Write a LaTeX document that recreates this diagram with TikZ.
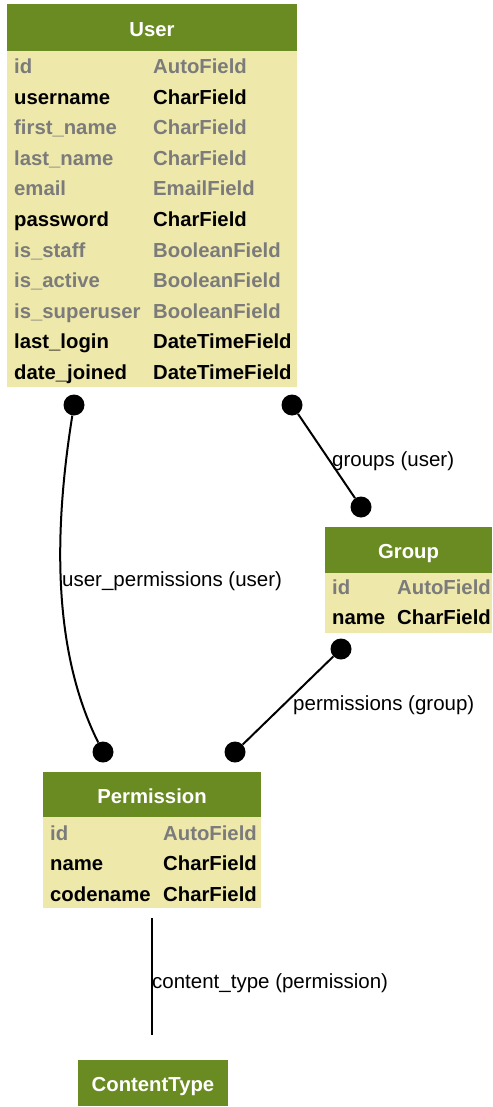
\documentclass[tikz,border=0pt]{standalone}
\usepackage{fontspec}
\setmainfont{Liberation Sans}
\usetikzlibrary{positioning}
\definecolor{hdrgreen}{HTML}{698B22}
\definecolor{bodyyellow}{HTML}{EEE8AA}
\definecolor{fldgrey}{HTML}{7B7B7B}
\newcommand{\fldfont}{\fontsize{20.3}{24}\selectfont}
\newcommand{\relfont}{\fontsize{20.5}{24}\selectfont}
\tikzset{
  hdr/.style={fill=hdrgreen, text=white, font=\fldfont\bfseries, inner sep=0pt, text height=17.7pt, text depth=0pt},
  bodybox/.style={fill=bodyyellow, inner sep=0pt},
  fld/.style={anchor=base west, inner sep=0pt, font=\fldfont\bfseries},
  fldgr/.style={fld, text=fldgrey},
  dot/.style={circle, fill=black, inner sep=0pt, minimum size=21pt},
  rel/.style={line width=2pt},
  rellabel/.style={anchor=base west, inner sep=0pt, font=\relfont}
}
\begin{document}
\begin{tikzpicture}[x=1pt,y=-1pt]
        \useasboundingbox (0,0) rectangle (492,1107);
        % Tabla User
        \node[hdr, minimum width=290pt, minimum height=47pt] (user) at (152,27.5) {User};
        \node[bodybox, minimum width=290pt, minimum height=336pt, below=0pt of user] (userbody) {};
        \node[fldgr] (uid) at (14,74) {id};
        \node[fldgr] (uidT) at (153,74) {AutoField};
        \node[fld] (uname) at (14,104.5) {username};
        \node[fld] (unameT) at (153,104.5) {CharField};
        \node[fldgr] (ufirst) at (14,135) {first\_name};
        \node[fldgr] (ufirstT) at (153,135) {CharField};
        \node[fldgr] (ulast) at (14,165.5) {last\_name};
        \node[fldgr] (ulastT) at (153,165.5) {CharField};
        \node[fldgr] (umail) at (14,196) {email};
        \node[fldgr] (umailT) at (153,196) {EmailField};
        \node[fld] (upass) at (14,226.5) {password};
        \node[fld] (upassT) at (153,226.5) {CharField};
        \node[fldgr] (ustaff) at (14,257) {is\_staff};
        \node[fldgr] (ustaffT) at (153,257) {BooleanField};
        \node[fldgr] (uactive) at (14,287.5) {is\_active};
        \node[fldgr] (uactiveT) at (153,287.5) {BooleanField};
        \node[fldgr] (usuper) at (14,318) {is\_superuser};
        \node[fldgr] (usuperT) at (153,318) {BooleanField};
        \node[fld] (ulogin) at (14,348.5) {last\_login};
        \node[fld] (uloginT) at (153,348.5) {DateTimeField};
        \node[fld] (ujoined) at (14,379) {date\_joined};
        \node[fld] (ujoinedT) at (153,379) {DateTimeField};
        % Tabla Group
        \node[hdr, minimum width=167pt, minimum height=46pt] (group) at (408.5,550) {Group};
        \node[bodybox, minimum width=167pt, minimum height=60pt, below=0pt of group] (groupbody) {};
        \node[fldgr] (gid) at (332,594) {id};
        \node[fldgr] (gidT) at (397,594) {AutoField};
        \node[fld] (gname) at (332,624.5) {name};
        \node[fld] (gnameT) at (397,624.5) {CharField};
        % Tabla Permission
        \node[hdr, minimum width=218pt, minimum height=45pt] (perm) at (152,794.5) {Permission};
        \node[bodybox, minimum width=218pt, minimum height=91pt, below=0pt of perm] (permbody) {};
        \node[fldgr] (pid) at (50,840) {id};
        \node[fldgr] (pidT) at (163,840) {AutoField};
        \node[fld] (pname) at (50,870.5) {name};
        \node[fld] (pnameT) at (163,870.5) {CharField};
        \node[fld] (pcode) at (50,901) {codename};
        \node[fld] (pcodeT) at (163,901) {CharField};
        % Tabla ContentType
        \node[hdr, minimum width=150pt, minimum height=46pt] (ctype) at (153,1083) {ContentType};
        % Extremos de las relaciones
        \node[dot] (udotL) at (74,405) {};
        \node[dot] (udotR) at (292,405) {};
        \node[dot] (gdotT) at (361,507) {};
        \node[dot] (gdotB) at (341,649) {};
        \node[dot] (pdotL) at (103,752) {};
        \node[dot] (pdotR) at (235,752) {};
        \coordinate (ptail) at (152,918);
        \coordinate (chead) at (152,1035);
        % Relaciones
        \draw[rel] (udotR) -- (gdotT);
        \draw[rel] (udotL) .. controls (54,530) and (52,650) .. (pdotL);
        \draw[rel] (gdotB) -- (pdotR);
        \draw[rel] (ptail) -- (chead);
        \node[rellabel] (lgroups) at (332,466) {groups (user)};
        \node[rellabel] (luperms) at (62,586) {user\_permissions (user)};
        \node[rellabel] (lgperms) at (293,710) {permissions (group)};
        \node[rellabel] (lctype) at (152,988) {content\_type (permission)};
    \end{tikzpicture}
\end{document}
